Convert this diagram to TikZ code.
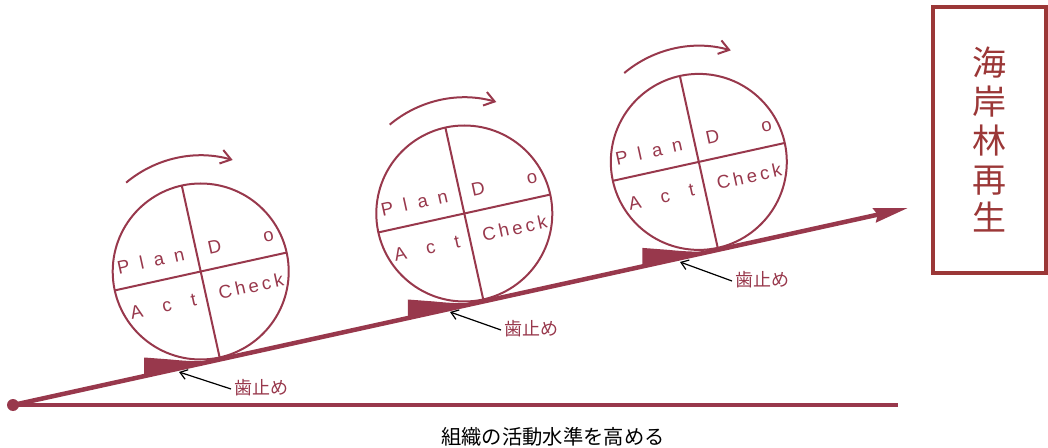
\documentclass[tikz,border=0pt]{standalone}
\usepackage{fontspec}
\setmainfont{Liberation Sans}
\newfontfamily\cjk{Noto Sans CJK JP}
\usetikzlibrary{arrows.meta,calc}
\definecolor{maroon}{RGB}{152,56,76}
\definecolor{boxred}{RGB}{155,55,55}
\tikzset{
  incl/.style={draw=maroon, line width=4.5pt, -{Stealth[length=34pt,width=14pt,inset=3pt]}},
  baseline/.style={draw=maroon, line width=4pt},
  wheel/.style={draw=maroon, line width=2pt, circle, minimum size=176pt, inner sep=0pt},
  divider/.style={draw=maroon, line width=2pt},
  rotarrow/.style={draw=maroon, line width=2pt, -{Straight Barb[length=10pt,width=14pt]}},
  pdca/.style={text=maroon, font=\fontsize{18.5}{22}\selectfont, inner sep=0pt, transform shape},
  stopper/.style={fill=maroon, draw=none},
  callout/.style={draw=black, line width=1.2pt, -{Straight Barb[length=7pt,width=10pt]}},
  calltext/.style={text=maroon, font=\cjk\fontsize{18}{20}\selectfont, anchor=west, inner sep=0pt},
}
\newcommand{\pdcawheel}[2]{%
  \fill[stopper] ($#2+(-56.5,-86)$) -- ($#2+(-30,-88)$) .. controls ($#2+(-10,-90)$) and ($#2+(5,-90.5)$) .. ($#2+(19.35,-87.9)$) -- ($#2+(-56.5,-104.6)$) -- cycle;
  \node[wheel] (w#1) at #2 {};
  \begin{scope}[shift={#2}, rotate=12.42]
    \draw[divider] (0,88) -- (0,-88);
    \draw[divider] (-88,0) -- (88,0);
    \node[pdca] (plan#1) at (-46.5,21) {\makebox[68pt][s]{P\hfill l\hfill a\hfill n}};
    \node[pdca] (do#1) at (45.5,21) {\makebox[67pt][s]{D\hfill o}};
    \node[pdca] (act#1) at (-44,-26) {\makebox[67pt][s]{A\hfill c\hfill t}};
    \node[pdca] (check#1) at (46,-25) {\makebox[66pt][s]{C\hfill h\hfill e\hfill c\hfill k}};
  \end{scope}
  \draw[rotarrow] ($#2+(130:116)$) arc[start angle=130, end angle=74, radius=116];
}
\begin{document}
\begin{tikzpicture}[x=1pt, y=1pt]
\useasboundingbox (0,0) rectangle (1048,447);
\coordinate (S) at (13,42);
\coordinate (E) at (908,239);
\coordinate (H) at (898,42);
% wheels with stoppers
\pdcawheel{1}{(200.7,175.5)}
\pdcawheel{2}{(464.3,233.5)}
\pdcawheel{3}{(698.8,285.1)}
% incline and base
\draw[baseline] (S) -- (H);
\draw[incl] (S) -- (E);
\fill[maroon] (S) circle[radius=6];
% callouts
\node[calltext] (l1) at (234,59) {歯止め};
\coordinate (p1) at (179,75);
\draw[callout] (l1.west) ++(-3,-1) -- (p1);
\node[calltext] (l2) at (504,118) {歯止め};
\coordinate (p2) at (450,135);
\draw[callout] (l2.west) ++(-3,-1) -- (p2);
\node[calltext] (l3) at (735,167) {歯止め};
\coordinate (p3) at (680,185);
\draw[callout] (l3.west) ++(-3,-1) -- (p3);
% bottom caption
\node[font=\cjk\fontsize{20.3}{24}\selectfont, text=black, inner sep=0pt] (cap) at (553,10) {組織の活動水準を高める};
% title box
\node[draw=boxred, line width=4pt, minimum width=113pt, minimum height=266pt, inner sep=0pt,
      text=boxred, align=center, font=\cjk\fontsize{34}{38.75}\selectfont] (box) at (989.5,307) {海\\岸\\林\\再\\生};
\end{tikzpicture}
\end{document}
